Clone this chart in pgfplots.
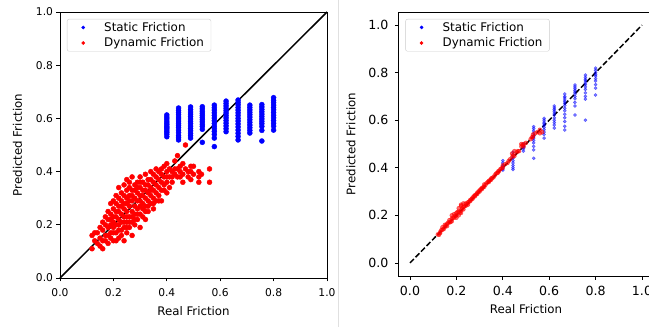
\documentclass[border=0pt]{standalone}
\usepackage{pgfplots}
\pgfplotsset{compat=1.18}
\usepackage{fontspec}
\setmainfont{DejaVu Sans}
\pgfplotsset{
  legdot/.style={legend image code/.code={\path[draw=none,fill=none] (0pt,0pt) -- (22pt,0pt);\draw[##1,mark size=1.6pt,opacity=1] plot coordinates {(11pt,0pt)};}},
  mplaxis/.style={
    scale only axis,
    axis line style={black, line width=0.8pt},
    tick align=outside,
    tick pos=left,
    major tick length=3.5pt,
    every tick/.style={black, line width=0.8pt},
    /pgf/number format/.cd, fixed, fixed zerofill, precision=1, assume math mode=true,
    /pgfplots/.cd,
    xtick={0,0.2,0.4,0.6,0.8,1.0},
    ytick={0,0.2,0.4,0.6,0.8,1.0},
    label style={font=\fontsize{11.8}{13}\selectfont},
    xlabel={Real Friction},
    ylabel={Predicted Friction},
    legend style={at={(axis description cs:0,1)}, anchor=north west, xshift=7pt, yshift=-7pt,
      draw=black!20, rounded corners=2pt, fill=white, fill opacity=0.8, text opacity=1,
      font=\fontsize{11.9}{13}\selectfont, inner xsep=5pt, inner ysep=1pt, column sep=8pt, row sep=1pt,
      cells={anchor=west}},
    clip=false,
  }
}
\begin{document}
\begin{tikzpicture}[x=1pt,y=1pt]
\useasboundingbox (0,0) rectangle (649,327);
\draw[black!12, line width=1pt] (338,0) -- (338,327);
% ---------------- left panel ----------------
\begin{axis}[mplaxis, at={(60pt,49pt)}, anchor=south west, width=267pt, height=266pt,
  xmin=0, xmax=1, ymin=0, ymax=1,
  ticklabel style={font=\fontsize{10.7}{12}\selectfont},
  xticklabel style={yshift=-4pt},
  xlabel style={yshift=-3pt}, ylabel style={yshift=7pt}]
\addplot[only marks, mark=*, mark size=2.5pt, draw=blue, fill=blue, legdot] table {
0.400 0.613
0.400 0.605
0.400 0.598
0.400 0.590
0.400 0.583
0.400 0.577
0.400 0.570
0.400 0.565
0.400 0.560
0.400 0.553
0.400 0.547
0.400 0.540
0.400 0.531
0.444 0.639
0.444 0.630
0.444 0.622
0.444 0.614
0.444 0.605
0.444 0.598
0.444 0.590
0.444 0.582
0.444 0.574
0.444 0.566
0.444 0.556
0.444 0.546
0.444 0.535
0.444 0.527
0.444 0.519
0.489 0.643
0.489 0.633
0.489 0.624
0.489 0.616
0.489 0.607
0.489 0.598
0.489 0.589
0.489 0.580
0.489 0.571
0.489 0.562
0.489 0.553
0.489 0.544
0.489 0.535
0.489 0.526
0.533 0.644
0.533 0.636
0.533 0.627
0.533 0.619
0.533 0.611
0.533 0.603
0.533 0.595
0.533 0.587
0.533 0.578
0.533 0.570
0.533 0.559
0.533 0.510
0.578 0.650
0.578 0.640
0.578 0.631
0.578 0.621
0.578 0.611
0.578 0.601
0.578 0.591
0.578 0.581
0.578 0.571
0.578 0.561
0.578 0.551
0.578 0.540
0.578 0.526
0.578 0.494
0.622 0.665
0.622 0.656
0.622 0.647
0.622 0.638
0.622 0.629
0.622 0.620
0.622 0.611
0.622 0.602
0.622 0.592
0.622 0.582
0.622 0.572
0.622 0.561
0.622 0.550
0.667 0.669
0.667 0.660
0.667 0.651
0.667 0.641
0.667 0.631
0.667 0.621
0.667 0.611
0.667 0.600
0.667 0.590
0.667 0.579
0.667 0.568
0.667 0.556
0.667 0.544
0.667 0.532
0.667 0.519
0.711 0.650
0.711 0.641
0.711 0.632
0.711 0.623
0.711 0.614
0.711 0.605
0.711 0.595
0.711 0.585
0.711 0.575
0.711 0.565
0.711 0.555
0.711 0.545
0.756 0.652
0.756 0.643
0.756 0.634
0.756 0.625
0.756 0.616
0.756 0.607
0.756 0.598
0.756 0.589
0.756 0.580
0.756 0.570
0.756 0.555
0.756 0.515
0.800 0.678
0.800 0.668
0.800 0.659
0.800 0.650
0.800 0.641
0.800 0.632
0.800 0.622
0.800 0.612
0.800 0.602
0.800 0.592
0.800 0.582
0.800 0.571
0.800 0.556
};
\addlegendentry{Static Friction}
\addplot[only marks, mark=*, mark size=2.5pt, draw=red, fill=red, legdot] table {
0.12 0.11
0.12 0.16
0.13 0.14
0.13 0.17
0.14 0.17
0.14 0.13
0.15 0.19
0.15 0.15
0.15 0.12
0.16 0.11
0.16 0.14
0.16 0.18
0.16 0.21
0.17 0.14
0.17 0.16
0.17 0.20
0.17 0.23
0.18 0.13
0.18 0.16
0.18 0.19
0.18 0.22
0.18 0.25
0.19 0.15
0.19 0.17
0.19 0.20
0.19 0.22
0.19 0.24
0.19 0.28
0.20 0.14
0.20 0.17
0.20 0.19
0.20 0.21
0.20 0.23
0.20 0.26
0.20 0.29
0.21 0.14
0.21 0.17
0.21 0.20
0.21 0.23
0.21 0.25
0.21 0.28
0.21 0.31
0.22 0.15
0.22 0.18
0.22 0.20
0.22 0.22
0.22 0.25
0.22 0.27
0.22 0.30
0.22 0.34
0.23 0.16
0.23 0.18
0.23 0.21
0.23 0.24
0.23 0.27
0.23 0.29
0.23 0.32
0.24 0.14
0.24 0.19
0.24 0.21
0.24 0.23
0.24 0.26
0.24 0.28
0.24 0.31
0.24 0.35
0.25 0.17
0.25 0.19
0.25 0.21
0.25 0.23
0.25 0.25
0.25 0.28
0.25 0.30
0.25 0.33
0.25 0.37
0.26 0.19
0.26 0.21
0.26 0.23
0.26 0.27
0.26 0.29
0.26 0.31
0.26 0.34
0.26 0.36
0.27 0.16
0.27 0.21
0.27 0.23
0.27 0.25
0.27 0.29
0.27 0.31
0.27 0.33
0.27 0.38
0.28 0.20
0.28 0.22
0.28 0.24
0.28 0.27
0.28 0.30
0.28 0.33
0.28 0.35
0.29 0.22
0.29 0.24
0.29 0.26
0.29 0.29
0.29 0.32
0.29 0.34
0.29 0.36
0.30 0.19
0.30 0.24
0.30 0.27
0.30 0.29
0.30 0.31
0.30 0.34
0.30 0.36
0.30 0.38
0.31 0.23
0.31 0.26
0.31 0.28
0.31 0.31
0.31 0.33
0.31 0.36
0.32 0.22
0.32 0.25
0.32 0.27
0.32 0.30
0.32 0.33
0.32 0.35
0.32 0.39
0.33 0.25
0.33 0.27
0.33 0.29
0.33 0.32
0.33 0.35
0.33 0.37
0.34 0.28
0.34 0.31
0.34 0.33
0.34 0.34
0.34 0.37
0.34 0.40
0.35 0.26
0.35 0.28
0.35 0.30
0.35 0.33
0.35 0.36
0.35 0.39
0.36 0.29
0.36 0.32
0.36 0.35
0.36 0.38
0.36 0.41
0.37 0.29
0.37 0.31
0.37 0.34
0.37 0.37
0.37 0.40
0.38 0.29
0.38 0.33
0.38 0.36
0.38 0.39
0.38 0.41
0.39 0.33
0.39 0.35
0.39 0.38
0.39 0.42
0.40 0.32
0.40 0.36
0.40 0.38
0.40 0.40
0.40 0.43
0.41 0.34
0.41 0.38
0.41 0.41
0.42 0.36
0.42 0.38
0.42 0.40
0.43 0.39
0.43 0.41
0.43 0.44
0.44 0.38
0.44 0.41
0.44 0.46
0.45 0.38
0.45 0.40
0.45 0.42
0.46 0.36
0.46 0.39
0.46 0.43
0.47 0.41
0.47 0.50
0.48 0.38
0.48 0.40
0.49 0.37
0.49 0.40
0.49 0.42
0.50 0.39
0.50 0.42
0.52 0.36
0.52 0.38
0.52 0.40
0.53 0.39
0.56 0.36
0.56 0.41
};
\addlegendentry{Dynamic Friction}
\addplot[black, line width=1.5pt, forget plot] coordinates {(0,0) (1,1)};
\end{axis}
% ---------------- right panel ----------------
\begin{axis}[mplaxis, at={(398.4pt,51pt)}, anchor=south west, width=255.2pt, height=264pt,
  xmin=-0.05, xmax=1.05, ymin=-0.055, ymax=1.055,
  ticklabel style={font=\fontsize{12.6}{14}\selectfont},
  xticklabel style={yshift=-3pt}, yticklabel style={xshift=-3pt},
  xlabel style={yshift=-2pt}, ylabel style={yshift=6pt}]
\addplot[only marks, mark=*, mark size=1.6pt, draw=blue, fill=blue, opacity=0.5, legdot] table {
0.400 0.430
0.400 0.420
0.400 0.410
0.400 0.405
0.400 0.400
0.400 0.395
0.400 0.390
0.444 0.465
0.444 0.455
0.444 0.445
0.444 0.440
0.444 0.430
0.444 0.420
0.444 0.410
0.444 0.400
0.444 0.393
0.489 0.500
0.489 0.495
0.489 0.490
0.489 0.485
0.489 0.480
0.489 0.470
0.533 0.573
0.533 0.565
0.533 0.555
0.533 0.545
0.533 0.535
0.533 0.530
0.533 0.525
0.533 0.515
0.533 0.505
0.533 0.490
0.533 0.475
0.533 0.440
0.578 0.608
0.578 0.600
0.578 0.592
0.578 0.585
0.578 0.578
0.578 0.570
0.578 0.560
0.578 0.550
0.578 0.540
0.578 0.525
0.622 0.660
0.622 0.652
0.622 0.645
0.622 0.638
0.622 0.630
0.622 0.622
0.622 0.610
0.622 0.600
0.622 0.590
0.622 0.580
0.622 0.567
0.667 0.710
0.667 0.700
0.667 0.693
0.667 0.685
0.667 0.678
0.667 0.670
0.667 0.662
0.667 0.650
0.667 0.640
0.667 0.625
0.667 0.610
0.667 0.595
0.667 0.575
0.667 0.559
0.711 0.748
0.711 0.740
0.711 0.732
0.711 0.725
0.711 0.718
0.711 0.710
0.711 0.700
0.711 0.690
0.711 0.675
0.711 0.660
0.711 0.622
0.756 0.790
0.756 0.780
0.756 0.772
0.756 0.765
0.756 0.757
0.756 0.750
0.756 0.740
0.756 0.730
0.756 0.715
0.756 0.700
0.756 0.689
0.756 0.600
0.800 0.819
0.800 0.810
0.800 0.800
0.800 0.792
0.800 0.785
0.800 0.775
0.800 0.765
0.800 0.750
0.800 0.735
0.800 0.706
};
\addlegendentry{Static Friction}
\addplot[only marks, mark=*, mark size=2pt, draw=red, fill=red, opacity=0.6, legdot] table {
0.12 0.120
0.125 0.118
0.13 0.130
0.13 0.125
0.135 0.138
0.14 0.140
0.14 0.150
0.145 0.142
0.15 0.150
0.15 0.160
0.155 0.158
0.16 0.165
0.16 0.155
0.165 0.170
0.17 0.170
0.17 0.180
0.175 0.172
0.18 0.185
0.18 0.175
0.18 0.200
0.185 0.190
0.19 0.190
0.19 0.205
0.195 0.198
0.20 0.200
0.20 0.210
0.20 0.190
0.205 0.215
0.21 0.215
0.21 0.200
0.21 0.230
0.215 0.212
0.22 0.220
0.22 0.240
0.22 0.245
0.22 0.210
0.225 0.228
0.23 0.235
0.23 0.225
0.23 0.250
0.235 0.238
0.24 0.240
0.24 0.250
0.245 0.248
0.25 0.255
0.25 0.245
0.255 0.258
0.26 0.265
0.26 0.260
0.265 0.268
0.27 0.275
0.27 0.270
0.275 0.280
0.28 0.285
0.28 0.280
0.285 0.288
0.29 0.295
0.29 0.290
0.295 0.300
0.30 0.305
0.30 0.300
0.305 0.310
0.31 0.315
0.31 0.310
0.315 0.318
0.32 0.330
0.32 0.320
0.325 0.328
0.33 0.335
0.335 0.340
0.34 0.345
0.34 0.340
0.345 0.348
0.35 0.355
0.35 0.350
0.355 0.358
0.36 0.360
0.365 0.368
0.37 0.375
0.375 0.378
0.38 0.385
0.38 0.380
0.385 0.388
0.39 0.395
0.395 0.398
0.40 0.400
0.40 0.410
0.41 0.415
0.42 0.420
0.425 0.428
0.43 0.435
0.44 0.445
0.44 0.460
0.445 0.452
0.45 0.450
0.45 0.470
0.46 0.465
0.465 0.470
0.47 0.470
0.48 0.490
0.48 0.500
0.485 0.495
0.49 0.500
0.49 0.490
0.50 0.505
0.52 0.520
0.525 0.528
0.53 0.530
0.53 0.540
0.54 0.545
0.55 0.550
0.56 0.560
0.56 0.545
0.57 0.550
};
\addlegendentry{Dynamic Friction}
\addplot[black, line width=1.5pt, dash pattern=on 5.5pt off 2.4pt, forget plot] coordinates {(0,0) (1,1)};
\end{axis}
\end{tikzpicture}
\end{document}
